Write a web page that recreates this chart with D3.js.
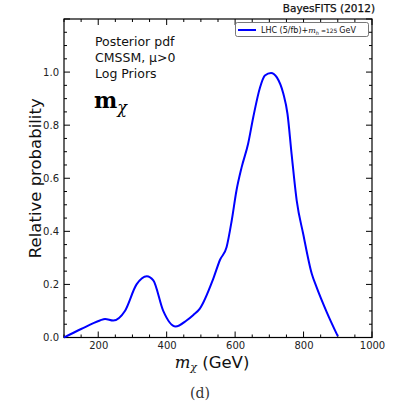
<!DOCTYPE html>
<html>
<head>
<meta charset="utf-8">
<script src="https://cdn.jsdelivr.net/npm/d3@7"></script>
<style>
  body { margin: 0; background: #fff; }
  svg text { font-family: "DejaVu Sans", sans-serif; }
</style>
</head>
<body>
<div id="chart"></div>
<script>
'use strict';

// neutralino mass (GeV) and relative probability
let massValues = [100, 150, 205, 220, 244, 278, 312, 342, 361, 390, 426, 458, 478, 497,
    536, 556, 575, 590, 604, 619, 638, 653, 673, 687, 705, 722, 741, 753, 765, 780,
    799, 824, 838, 868, 900];
let probValues = [0.0, 0.032, 0.064, 0.07, 0.064, 0.10, 0.20, 0.231, 0.215, 0.10, 0.041,
    0.064, 0.085, 0.109, 0.221, 0.293, 0.34, 0.44, 0.554, 0.641, 0.73, 0.83, 0.943,
    0.987, 0.997, 0.98, 0.918, 0.843, 0.692, 0.516, 0.39, 0.24, 0.19, 0.095, 0.005];

let xTicks = [200, 400, 600, 800, 1000];
let yTicks = [0.0, 0.2, 0.4, 0.6, 0.8, 1.0];
let annotationLines = ['Posterior pdf', 'CMSSM, \u03bc>0', 'Log Priors'];

let width = 401,
    height = 407;
let margin = {left: 64, right: 29, top: 19, bottom: 70};

let svg = d3.select('#chart')
    .append('svg')
    .attr('width', width)
    .attr('height', height);

let x = d3.scaleLinear().domain([100, 1000]).range([margin.left, width - margin.right]);
let y = d3.scaleLinear().domain([0, 1.2]).range([height - margin.bottom + 0.5, margin.top]);

let data = massValues.map(function(m, i) {
    return {m: m, p: probValues[i]};
});

// minor + major ticks, pointing inwards on all four sides
let xMinor = d3.range(100, 1001, 50);
let yMinor = d3.range(0, 1.2001, 0.05);

let plotBottom = y(0), plotTop = y(1.2), plotLeft = x(100), plotRight = x(1000);

let tickG = svg.append('g').attr('stroke', '#000').attr('stroke-width', 1);
xMinor.forEach(function(v) {
    let len = (v % 200 === 0) ? 6 : 3;
    tickG.append('line').attr('x1', x(v)).attr('x2', x(v))
        .attr('y1', plotBottom).attr('y2', plotBottom - len);
    tickG.append('line').attr('x1', x(v)).attr('x2', x(v))
        .attr('y1', plotTop).attr('y2', plotTop + len);
});
yMinor.forEach(function(v) {
    let isMajor = Math.abs(v * 5 - Math.round(v * 5)) < 1e-6;
    let len = isMajor ? 6 : 3;
    tickG.append('line').attr('x1', plotLeft).attr('x2', plotLeft + len)
        .attr('y1', y(v)).attr('y2', y(v));
    tickG.append('line').attr('x1', plotRight).attr('x2', plotRight - len)
        .attr('y1', y(v)).attr('y2', y(v));
});

// tick labels through d3 axes
let xAxis = svg.append('g')
    .attr('transform', 'translate(0,' + plotBottom + ')')
    .call(d3.axisBottom(x).tickValues(xTicks).tickSize(0).tickPadding(4).tickFormat(d3.format('d')));
let yAxis = svg.append('g')
    .attr('transform', 'translate(' + plotLeft + ',0)')
    .call(d3.axisLeft(y).tickValues(yTicks).tickSize(0).tickPadding(5).tickFormat(d3.format('.1f')));
[xAxis, yAxis].forEach(function(a) {
    a.select('.domain').remove();
    a.selectAll('text').attr('font-size', 10).attr('fill', '#222')
        .style('font-family', '"DejaVu Sans", sans-serif');
});

// frame
svg.append('rect')
    .attr('x', plotLeft).attr('y', plotTop)
    .attr('width', plotRight - plotLeft).attr('height', plotBottom - plotTop)
    .attr('fill', 'none').attr('stroke', '#000').attr('stroke-width', 1.2);

// curve
let line = d3.line()
    .x(function(d) { return x(d.m); })
    .y(function(d) { return y(d.p); })
    .curve(d3.curveMonotoneX);

svg.append('path')
    .datum(data)
    .attr('d', line)
    .attr('fill', 'none')
    .attr('stroke', '#0000ff')
    .attr('stroke-width', 2)
    .attr('stroke-linejoin', 'round');

// annotations
annotationLines.forEach(function(t, i) {
    svg.append('text')
        .attr('x', 95).attr('y', 46 + i * 16)
        .attr('font-size', 12.5)
        .attr('fill', '#111')
        .text(t);
});
let mchi = svg.append('text').attr('x', 94).attr('y', 108)
    .style('font-family', '"DejaVu Serif", serif');
mchi.append('tspan').attr('font-size', 22).attr('font-weight', 'bold').text('m');
mchi.append('tspan').attr('font-size', 16).attr('dy', 5).attr('font-style', 'italic').text('\u03c7');

// title
svg.append('text')
    .attr('x', 375).attr('y', 12)
    .attr('text-anchor', 'end')
    .attr('font-size', 10.5)
    .attr('fill', '#111')
    .attr('stroke', '#111')
    .attr('stroke-width', 0.25)
    .text('BayesFITS (2012)');

// legend
svg.append('rect')
    .attr('x', 235.5).attr('y', 22.5)
    .attr('width', 133).attr('height', 14)
    .attr('rx', 2)
    .attr('fill', '#fff').attr('stroke', '#555').attr('stroke-width', 0.8);
svg.append('line')
    .attr('x1', 238).attr('x2', 256).attr('y1', 30).attr('y2', 30)
    .attr('stroke', '#0000ff').attr('stroke-width', 2);
let legText = svg.append('text').attr('x', 261).attr('y', 33).attr('font-size', 8).attr('fill', '#111');
legText.append('tspan').text('LHC (5/fb)+');
legText.append('tspan').attr('font-style', 'italic').style('font-family', '"DejaVu Serif", serif').text('m');
legText.append('tspan').attr('font-size', 5).attr('dy', 1.5).attr('font-style', 'italic').text('h');
legText.append('tspan').attr('font-size', 6).attr('dy', -1.5).text(' \u2243125 ');
legText.append('tspan').text('GeV');

// axis titles
svg.append('text')
    .attr('transform', 'translate(41,' + ((plotTop + plotBottom) / 2) + ') rotate(-90)')
    .attr('text-anchor', 'middle')
    .attr('font-size', 16.5)
    .attr('fill', '#111')
    .text('Relative probability');

let xTitle = svg.append('text')
    .attr('x', 212).attr('y', 368)
    .attr('text-anchor', 'middle')
    .attr('font-size', 16.5)
    .attr('fill', '#111');
xTitle.append('tspan').attr('font-style', 'italic').style('font-family', '"DejaVu Serif", serif').text('m');
xTitle.append('tspan').attr('font-size', 11).attr('dy', 3).attr('font-style', 'italic').style('font-family', '"DejaVu Serif", serif').text('\u03c7');
xTitle.append('tspan').attr('dy', -3).text(' (GeV)');

// panel label
svg.append('text')
    .attr('x', 200).attr('y', 398)
    .attr('text-anchor', 'middle')
    .attr('font-size', 14)
    .attr('fill', '#333')
    .style('font-family', '"DejaVu Serif", "Liberation Serif", serif')
    .text('(d)');
</script>
</body>
</html>
